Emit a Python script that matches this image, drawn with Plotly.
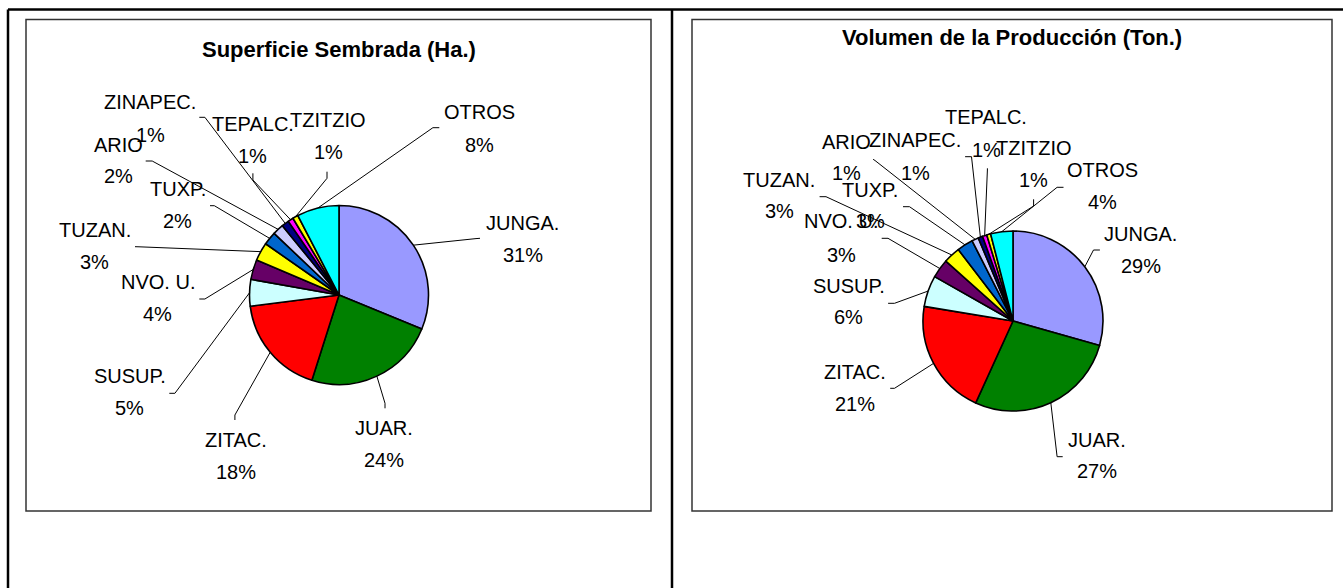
import math
import plotly.graph_objects as go

# ---------------- data ----------------
categories = ["JUNGA.", "JUAR.", "ZITAC.", "SUSUP.", "NVO. U.", "TUZAN.",
              "TUXP.", "ARIO", "ZINAPEC.", "TEPALC.", "TZITZIO", "OTROS"]
superficie = [31.2, 23.7, 18.1, 4.8, 3.6, 3.3, 2.4, 2.0, 1.3, 1.0, 1.0, 7.6]
volumen = [29.4, 27.4, 20.8, 5.6, 3.4, 3.0, 2.9, 1.2, 0.8, 0.8, 0.7, 4.0]
slice_colors = ["#9999FF", "#008000", "#FF0000", "#CCFFFF", "#660066", "#FFFF00",
                "#0066CC", "#CCCCFF", "#000080", "#FF00FF", "#FFFF00", "#00FFFF"]
title_left = "Superficie Sembrada (Ha.)"
title_right = "Volumen de la Producción (Ton.)"

# ---------------- layout (pixel positions) ----------------
W, H = 1343, 588
LABEL_FONT = dict(family="Arial, Liberation Sans, sans-serif", size=20, color="black")
TITLE_FONT = dict(family="Arial, Liberation Sans, sans-serif", size=22, color="black")

left_pie = dict(cx=339, cy=295, r=89.5)
right_pie = dict(cx=1013, cy=321, r=90)

# label centre x, baseline of name line, baseline of percent line
left_label_pos = [(522.5, 230, 261.7), (384.3, 435, 466.7), (235.5, 446.7, 479.3),
                  (129.5, 383.3, 415), (157.8, 289.3, 320.7), (94.7, 237.3, 269.3),
                  (177.5, 196, 227.7), (118, 151.7, 183.3), (150.3, 109.3, 141.7),
                  (252.5, 130.7, 163.3), (328, 126.7, 159.3), (479, 119.3, 151.7)]
left_leader = [((480, 238.3), (476, 238.6)), ((385, 408.3), (385, 403.3)),
               ((234.9, 420), (234.9, 415)), ((169.3, 393.3), (174.9, 393.3)),
               ((199.3, 299), (204.9, 299)), ((135, 246.7), (139, 246.8)),
               ((210, 205.7), (214.3, 205.7)), ((145.7, 161), (152.2, 161)),
               ((199.3, 117.3), (204.9, 117.3)), ((252.9, 173.3), (252.9, 180)),
               ((327, 171.7), (327, 178.3)), ((439.3, 127.7), (432.9, 127.7))]

right_label_pos = [(1140.6, 240.7, 273.3), (1097, 446.7, 478.3), (854.5, 379, 410.7),
                   (848.5, 292.7, 324.3), (841, 228.3, 261.7), (779.5, 187.3, 218.3),
                   (870, 196.7, 228.3), (846.5, 149.3, 180), (915, 147.3, 180),
                   (986, 124, 156.7), (1033.7, 155, 186.7), (1102.5, 176.7, 209.3)]
right_leader = [((1099.9, 250), (1093.5, 250)), ((1062.7, 456.7), (1057.1, 456.7)),
                ((890.2, 388.3), (894.5, 388.3)), ((888.1, 303.3), (894.5, 303.3)),
                ((881.7, 238.3), (888, 238.3)), ((819.6, 196.7), (826, 196.7)),
                ((903, 206.7), (909.5, 206.7)), ((873.1, 159.3), (875, 160.5)),
                ((965.1, 156.7), (971.5, 156.7)), ((987.4, 168.3), (987.4, 170)),
                ((1033.6, 199.3), (1033.6, 206)), ((1063.5, 187.3), (1057.1, 187.3))]


def fx(x):
    return x / W


def fy(y):
    return 1 - y / H


fig = go.Figure()
shapes = []
annotations = []


def add_pie(values, pie, label_pos, leaders, title, title_x, title_y):
    cx, cy, r = pie["cx"], pie["cy"], pie["r"]
    fig.add_trace(go.Pie(
        labels=categories, values=values, sort=False, direction="clockwise",
        rotation=0, textinfo="none", showlegend=False, hoverinfo="label+percent",
        marker=dict(colors=slice_colors, line=dict(color="black", width=1.6)),
        domain=dict(x=[fx(cx - r), fx(cx + r)], y=[fy(cy + r), fy(cy - r)]),
    ))
    total = sum(values)
    cum = 0.0
    for i, v in enumerate(values):
        mid = (cum + v / 2) / total
        cum += v
        th = 2 * math.pi * mid
        ex, ey = cx + r * math.sin(th), cy - r * math.cos(th)
        (px_, py_), (qx, qy) = leaders[i]
        shapes.append(dict(
            type="path", xref="paper", yref="paper", layer="above",
            path=f"M {fx(px_)},{fy(py_)} L {fx(qx)},{fy(qy)} L {fx(ex)},{fy(ey)}",
            line=dict(color="black", width=1)))
        lx, b1, b2 = label_pos[i]
        pct = f"{round(v / total * 100)}%"
        for txt, b in ((categories[i], b1), (pct, b2)):
            annotations.append(dict(
                text=txt, x=fx(lx), y=fy(b - 7), xref="paper", yref="paper",
                xanchor="center", yanchor="middle", showarrow=False, font=LABEL_FONT))
    annotations.append(dict(
        text=f"<b>{title}</b>", x=fx(title_x), y=fy(title_y), xref="paper", yref="paper",
        xanchor="center", yanchor="middle", showarrow=False, font=TITLE_FONT))


add_pie(superficie, left_pie, left_label_pos, left_leader, title_left, 339, 49)
add_pie(volumen, right_pie, right_label_pos, right_leader, title_right, 1012, 38)

# frames
for x0, x1 in ((26, 651), (692, 1332)):
    shapes.append(dict(type="rect", xref="paper", yref="paper", layer="below",
                       x0=fx(x0), x1=fx(x1), y0=fy(511), y1=fy(19.5),
                       line=dict(color="#333333", width=1.5)))
shapes.append(dict(type="line", xref="paper", yref="paper", x0=fx(8), x1=fx(1343),
                   y0=fy(9.5), y1=fy(9.5), line=dict(color="black", width=2.5)))
for x in (8, 672):
    shapes.append(dict(type="line", xref="paper", yref="paper", x0=fx(x), x1=fx(x),
                       y0=fy(9.5), y1=0, line=dict(color="black", width=2.5)))

fig.update_layout(
    width=W, height=H, margin=dict(l=0, r=0, t=0, b=0),
    paper_bgcolor="white", plot_bgcolor="white",
    shapes=shapes, annotations=annotations,
)

fig.write_html("out.html", config={"displayModeBar": False},
               post_script="document.body.style.margin='0px';")
